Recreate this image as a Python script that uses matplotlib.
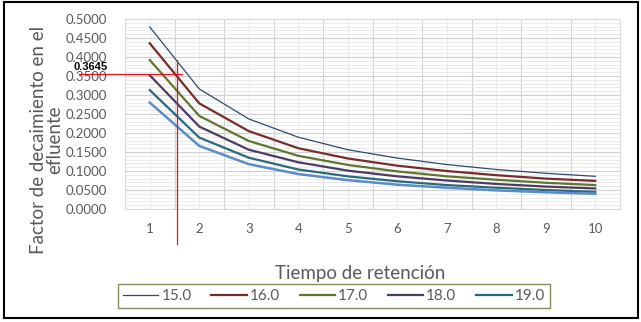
import matplotlib
matplotlib.use("Agg")
import matplotlib.pyplot as plt
from matplotlib.patches import Rectangle
from matplotlib.lines import Line2D
from matplotlib.ticker import MultipleLocator, FixedLocator

plt.rcParams['font.family'] = ['Lato', 'DejaVu Sans']

tiempos = [1, 2, 3, 4, 5, 6, 7, 8, 9, 10]
s15 = [0.479, 0.316, 0.237, 0.189, 0.156, 0.134, 0.117, 0.104, 0.094, 0.086]
s16 = [0.436, 0.278, 0.205, 0.160, 0.133, 0.114, 0.100, 0.089, 0.080, 0.074]
s17 = [0.392, 0.245, 0.179, 0.140, 0.116, 0.099, 0.086, 0.077, 0.069, 0.063]
s18 = [0.352, 0.217, 0.156, 0.123, 0.101, 0.086, 0.075, 0.066, 0.059, 0.054]
s19 = [0.313, 0.188, 0.135, 0.104, 0.086, 0.073, 0.063, 0.056, 0.050, 0.045]
s20 = [0.280, 0.166, 0.118, 0.092, 0.076, 0.064, 0.056, 0.049, 0.044, 0.040]
labels = ["15.0", "16.0", "17.0", "18.0", "19.0", "20.0"]
yticks = [0.0, 0.05, 0.10, 0.15, 0.20, 0.25, 0.30, 0.35, 0.40, 0.45, 0.50]
marca_valor = "0.3645"

series = [s15, s16, s17, s18, s19, s20]
colors = ["#2E4A6E", "#772C2A", "#5F7530", "#4D3B62", "#276A7C", "#5B8CC8"]
widths = [0.9, 1.6, 1.6, 1.6, 1.6, 1.8]

fig = plt.figure(figsize=(6.41, 3.22), dpi=100)
ax = fig.add_axes([125/641, 1-209/322, (620-125)/641, (209-19)/322])

for ys, c, w, lab in zip(series, colors, widths, labels):
    ax.plot(tiempos, ys, color=c, lw=w, label=lab, solid_joinstyle='round')

ax.set_xlim(0.5, 10.5)
ax.set_ylim(0, 0.5)
ax.set_xticks(tiempos)
ax.set_xticklabels([str(t) for t in tiempos])
ax.xaxis.set_minor_locator(FixedLocator([t + 0.5 for t in range(0, 11)]))
ax.set_yticks(yticks)
ax.set_yticklabels([f"{v:.4f}" for v in yticks])
ax.yaxis.set_minor_locator(MultipleLocator(0.01))
ax.grid(which='major', axis='y', color='#D0D0D0', lw=0.8)
ax.grid(which='minor', axis='y', color='#E8E8E8', lw=0.6)
ax.grid(which='minor', axis='x', color='#D0D0D0', lw=0.8)
ax.grid(which='major', axis='x', color='#E8E8E8', lw=0.6)
ax.set_axisbelow(True)
for sp in ax.spines.values():
    sp.set_color('#D9D9D9')
    sp.set_linewidth(0.8)
ax.tick_params(which='both', length=0, colors='#595959', labelsize=9.5)
ax.tick_params(axis='x', pad=10)
ax.tick_params(axis='y', pad=13)

ax.set_ylabel("Factor de decaimiento en el\nefluente", fontsize=13.5, color='#595959', linespacing=0.95)
ax.yaxis.set_label_coords((63-125)/495, (209-140)/190)
ax.set_xlabel("Tiempo de retención", fontsize=13.5, color='#595959')
ax.xaxis.set_label_coords((360-125)/495, (209-265)/190)

# red annotation lines
ax.plot([-0.43, 1.66], [0.355, 0.355], color='#E0141E', lw=0.9, clip_on=False, zorder=5)
ax.plot([1.555, 1.555], [0.392, -0.092], color='#E0141E', lw=0.9, clip_on=False, zorder=5)
ax.text(-0.55, 0.373, marca_valor, fontsize=8, fontweight='bold', color='black',
        family=['Liberation Sans', 'DejaVu Sans'], ha='left', va='center', clip_on=False)

handles = [Line2D([], [], color=c, lw=w) for c, w in zip(colors[:5], widths[:5])]
leg = fig.legend(handles, labels[:5], loc='center', bbox_to_anchor=(334/641, 1-296/322),
                 ncol=5, frameon=True, fancybox=False, fontsize=11, handlelength=2.3,
                 columnspacing=1.3, handletextpad=0.2, borderpad=0.35)
leg.get_frame().set_edgecolor('#6B6B3A')
leg.get_frame().set_linewidth(1.0)
for t in leg.get_texts():
    t.set_color('#595959')

fig.patches.append(Rectangle((4/641, 1-318/322), 634/641, 316/322, transform=fig.transFigure,
                             fill=False, edgecolor='black', lw=1.5))

fig.savefig("out.png", dpi=100)
